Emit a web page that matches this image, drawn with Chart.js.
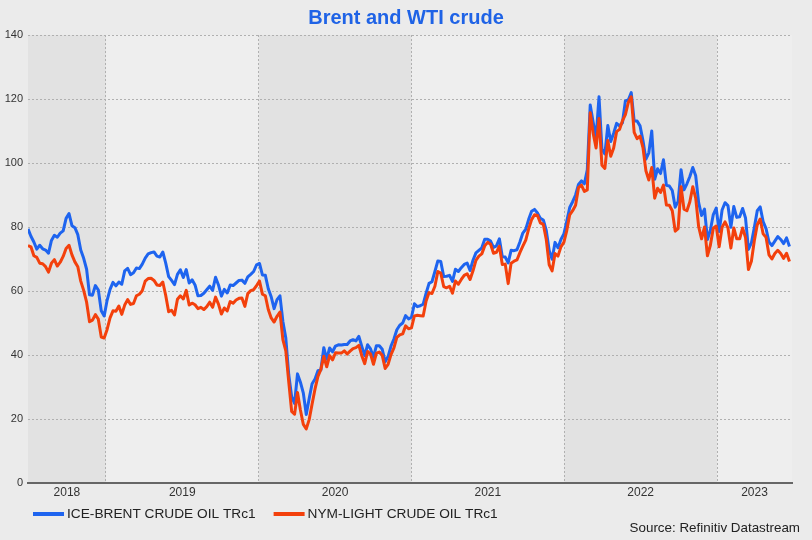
<!DOCTYPE html>
<html>
<head>
<meta charset="utf-8">
<title>Brent and WTI crude</title>
<script src="https://cdn.jsdelivr.net/npm/chart.js@4.4.1/dist/chart.umd.min.js"></script>
<style>
  html, body { margin: 0; padding: 0; background: #ebebeb; }
  #wrap { width: 812px; height: 540px; }
</style>
</head>
<body>
<div id="wrap"><canvas id="crudeChart" width="812" height="540"></canvas></div>
<script>
// === DATA: weekly (Friday) closes, USD/bbl ===
const firstWeek = '2018-06-29';
const axisStart = '2018-06-29';
const axisEnd = '2023-06-29';
const yearLabels = ['2018', '2019', '2020', '2021', '2022', '2023'];
const shadedYears = [2018, 2020, 2022];
const yTicks = [0, 20, 40, 60, 80, 100, 120, 140];
const titleText = 'Brent and WTI crude';
const sourceText = 'Source: Refinitiv Datastream';

const brent2018 = [79.4, 77.1, 75.3, 73.1, 74.3, 73.2, 72.8, 71.8, 75.8, 77.4, 76.8, 78.1, 78.8, 82.7,
  84.2, 80.4, 79.8, 77.6, 72.8, 70.2, 66.8, 58.8, 58.7, 61.7, 60.3, 53.8, 52.2];
const brent2019 = [57.1, 60.5, 62.7, 61.6, 62.8, 62.1, 66.3, 67.1, 65.1, 65.7, 67.2, 67.0, 68.4, 70.3,
  71.6, 72.0, 72.2, 70.9, 70.6, 72.2, 68.7, 64.5, 63.3, 62.0, 65.2, 66.6, 64.2, 66.7, 62.5, 63.5, 61.9,
  58.5, 58.6, 59.3, 60.4, 61.5, 60.2, 64.3, 61.9, 58.4, 60.5, 59.4, 61.9, 61.7, 62.5, 63.3, 63.4, 62.4,
  64.4, 65.2, 66.1, 68.2];
const brent2020 = [68.6, 65.0, 64.9, 60.7, 58.2, 54.5, 57.3, 58.5, 50.5, 45.3, 33.9, 27.0, 24.9, 34.1,
  31.5, 28.1, 21.4, 26.4, 31.0, 32.5, 35.1, 35.3, 42.3, 38.7, 42.2, 41.0, 42.8, 43.2, 43.1, 43.3, 43.3,
  44.4, 44.8, 44.4, 45.8, 42.7, 39.8, 43.2, 41.9, 39.3, 42.9, 42.9, 41.8, 37.9, 39.5, 42.8, 45.0, 47.9,
  49.3, 50.0, 52.3, 51.3];
const brent2021 = [51.8, 56.0, 55.1, 55.4, 55.9, 59.3, 62.4, 62.9, 66.1, 69.4, 69.2, 64.5, 64.6, 64.9,
  63.0, 66.8, 66.1, 67.3, 68.3, 68.7, 66.4, 69.6, 71.9, 72.7, 73.5, 76.2, 76.2, 75.6, 73.6, 74.1, 76.3,
  70.7, 70.6, 68.8, 72.7, 72.6, 72.9, 75.3, 78.1, 79.3, 82.4, 84.9, 85.5, 84.4, 82.7, 82.2, 78.9, 72.7,
  69.9, 75.2, 73.5, 76.1, 77.8];
const brent2022 = [81.8, 86.1, 87.9, 90.0, 93.3, 94.4, 93.5, 97.9, 118.1, 112.7, 107.9, 120.7, 104.4,
  102.8, 111.7, 106.7, 109.3, 112.4, 111.6, 112.6, 119.4, 119.7, 122.0, 113.1, 113.1, 111.6, 107.0,
  101.2, 103.2, 110.0, 94.9, 98.2, 96.7, 101.0, 93.0, 92.8, 91.4, 86.2, 88.0, 97.9, 91.6, 93.5, 95.8,
  98.6, 96.0, 87.6, 83.6, 85.6, 76.1, 79.0, 83.9, 85.9];
const brent2023 = [78.6, 85.3, 87.6, 86.7, 79.9, 86.4, 83.0, 83.2, 85.8, 82.8, 73.0, 75.0, 79.8, 85.1,
  86.3, 81.7, 79.5, 75.3, 74.2, 75.6, 77.0, 76.1, 74.8, 76.6, 73.9];

const wti2018 = [74.2, 73.8, 71.0, 70.5, 68.7, 68.5, 67.6, 65.9, 68.7, 69.8, 67.8, 69.0, 70.8, 73.3,
  74.3, 71.3, 69.1, 67.6, 63.1, 60.2, 56.5, 50.4, 50.9, 52.6, 51.2, 45.6, 45.3];
const wti2019 = [48.0, 51.6, 53.8, 53.7, 55.3, 52.7, 55.6, 57.3, 55.8, 56.1, 58.5, 59.0, 60.1, 63.1,
  63.9, 64.0, 63.3, 61.9, 61.7, 62.8, 58.6, 53.5, 54.0, 52.5, 57.4, 58.5, 57.5, 60.2, 55.6, 56.2, 55.7,
  54.5, 54.9, 54.2, 55.1, 56.5, 54.9, 58.1, 55.9, 52.8, 54.7, 53.8, 56.7, 56.2, 57.2, 57.7, 57.8, 55.2,
  59.2, 60.1, 60.4, 61.7];
const wti2020 = [63.1, 59.0, 58.5, 54.2, 51.6, 50.3, 52.1, 53.4, 44.8, 41.3, 31.7, 22.4, 21.5, 28.3,
  22.8, 18.3, 16.9, 19.8, 24.7, 29.4, 33.3, 35.5, 39.6, 36.3, 39.8, 38.5, 40.7, 40.6, 40.6, 41.3, 40.3,
  41.2, 42.0, 42.3, 43.0, 39.8, 37.3, 41.1, 40.3, 37.1, 40.6, 40.9, 39.9, 35.8, 37.1, 40.1, 42.2, 45.5,
  46.3, 46.6, 49.1, 48.2];
const wti2021 = [48.5, 52.2, 52.4, 52.3, 52.2, 56.9, 59.5, 59.2, 61.5, 66.1, 65.6, 61.4, 61.0, 61.5,
  59.3, 63.1, 62.1, 63.6, 64.9, 65.4, 63.6, 66.3, 69.6, 70.9, 71.6, 74.1, 75.2, 74.6, 71.8, 72.1, 74.0,
  68.3, 68.4, 62.3, 68.7, 69.3, 69.7, 72.0, 74.0, 75.9, 79.4, 82.3, 83.8, 83.6, 81.3, 80.8, 76.1, 68.2,
  66.3, 71.7, 70.9, 73.8, 75.2];
const wti2022 = [78.9, 83.8, 85.1, 86.8, 92.3, 93.1, 91.1, 91.6, 115.7, 109.3, 104.7, 113.9, 99.3,
  98.3, 107.0, 102.1, 104.7, 109.8, 110.5, 113.2, 115.1, 118.9, 120.7, 109.6, 107.6, 108.4, 104.8,
  97.6, 94.7, 98.6, 89.0, 92.1, 90.8, 93.1, 86.9, 86.8, 85.1, 78.7, 79.5, 92.6, 85.6, 85.1, 87.9, 92.6,
  89.0, 80.1, 76.3, 80.0, 71.0, 74.3, 79.6, 80.3];
const wti2023 = [73.8, 79.9, 81.6, 79.7, 73.4, 79.7, 76.3, 76.3, 79.7, 76.7, 66.7, 69.3, 75.7, 80.7,
  82.5, 77.9, 76.8, 71.3, 70.0, 71.7, 72.7, 71.7, 70.2, 71.8, 69.2];

const brent = [].concat(brent2018, brent2019, brent2020, brent2021, brent2022, brent2023);
const wti = [].concat(wti2018, wti2019, wti2020, wti2021, wti2022, wti2023);

// === HELPERS ===
const DAY = 86400000;
function toYear(ms) {
  const y = new Date(ms).getUTCFullYear();
  const a = Date.UTC(y, 0, 1), b = Date.UTC(y + 1, 0, 1);
  return y + (ms - a) / (b - a);
}
const startMs = Date.parse(firstWeek + 'T00:00:00Z');
const weeks = brent.map((_, i) => toYear(startMs + i * 7 * DAY));
const xMin = toYear(Date.parse(axisStart + 'T00:00:00Z'));
const xMax = toYear(Date.parse(axisEnd + 'T00:00:00Z'));

const asPoints = arr => arr.map((v, i) => ({ x: weeks[i], y: v }));

// === COLOURS / FONTS ===
const fontFamily = '"Liberation Sans", Arial, sans-serif';
const pageColor = '#ebebeb';
const plotColor = '#eeeeee';
const bandColor = '#e2e2e2';
const gridColor = '#b0b0b0';
const blue = '#1e64ef';
const red = '#f3400c';

// === PLUGINS ===
// shaded year bands behind grid and lines
const yearBands = {
  id: 'yearBands',
  beforeDraw(chart) {
    const { ctx, chartArea: a, scales: { x } } = chart;
    ctx.save();
    ctx.fillStyle = pageColor;
    ctx.fillRect(0, 0, chart.width, chart.height);
    ctx.fillStyle = plotColor;
    ctx.fillRect(a.left, a.top, a.right - a.left, a.bottom - a.top);
    ctx.fillStyle = bandColor;
    shadedYears.forEach(yr => {
      const x0 = x.getPixelForValue(Math.max(yr, x.min));
      const x1 = x.getPixelForValue(Math.min(yr + 1, x.max));
      ctx.fillRect(x0, a.top, x1 - x0, a.bottom - a.top);
    });
    ctx.restore();
  }
};

// title on top, legend row + source line under the axis
const frameText = {
  id: 'frameText',
  afterDraw(chart) {
    const ctx = chart.ctx;
    ctx.save();
    ctx.textBaseline = 'middle';

    ctx.font = 'bold 20px ' + fontFamily;
    ctx.fillStyle = '#1f63e6';
    ctx.textAlign = 'center';
    ctx.fillText(titleText, chart.width / 2, 18);

    ctx.font = '13.7px ' + fontFamily;
    ctx.textAlign = 'left';
    let cx = 33;
    const ly = 514;
    chart.data.datasets.forEach(ds => {
      ctx.strokeStyle = ds.borderColor;
      ctx.lineWidth = 4;
      ctx.beginPath();
      ctx.moveTo(cx, ly);
      ctx.lineTo(cx + 31, ly);
      ctx.stroke();
      ctx.fillStyle = '#222';
      ctx.fillText(ds.label, cx + 34, ly);
      cx += 34 + ctx.measureText(ds.label).width + 18;
    });

    ctx.font = '13.4px ' + fontFamily;
    ctx.textAlign = 'right';
    ctx.fillText(sourceText, 800, 528);
    ctx.restore();
  }
};

// === CHART ===
Chart.defaults.font.family = fontFamily;
Chart.defaults.color = '#333';

new Chart(document.getElementById('crudeChart'), {
  type: 'line',
  data: {
    datasets: [
      {
        label: 'ICE-BRENT CRUDE OIL TRc1',
        data: asPoints(brent),
        borderColor: blue,
        backgroundColor: blue,
        borderWidth: 3,
        pointRadius: 0,
        borderJoinStyle: 'round',
        order: 2
      },
      {
        label: 'NYM-LIGHT CRUDE OIL TRc1',
        data: asPoints(wti),
        borderColor: red,
        backgroundColor: red,
        borderWidth: 3,
        pointRadius: 0,
        borderJoinStyle: 'round',
        order: 1
      }
    ]
  },
  options: {
    responsive: false,
    animation: false,
    layout: { padding: { left: 0, right: 20, top: 35, bottom: 38.6 } },
    plugins: {
      title: { display: false },
      legend: { display: false },
      tooltip: { enabled: false }
    },
    scales: {
      x: {
        type: 'linear',
        min: xMin,
        max: xMax,
        afterBuildTicks: s => { s.ticks = [2019, 2020, 2021, 2022, 2023].map(v => ({ value: v })); },
        ticks: { display: false },
        grid: { color: gridColor, lineWidth: 1, drawTicks: false },
        border: { display: true, color: '#666', width: 2, dash: [2, 2] }
      },
      xLabels: {
        type: 'linear',
        position: 'bottom',
        axis: 'x',
        weight: 1,
        min: xMin,
        max: xMax,
        afterBuildTicks: s => {
          s.ticks = yearLabels.map(l => {
            const y = Number(l);
            const lo = Math.max(y, xMin), hi = Math.min(y + 1, xMax);
            return { value: (lo + hi) / 2 };
          });
        },
        ticks: {
          padding: 2,
          maxRotation: 0,
          autoSkip: false,
          font: { size: 12 },
          color: '#333',
          callback: (v, i) => yearLabels[i]
        },
        grid: { display: false, drawTicks: false },
        border: { display: false }
      },
      y: {
        min: 0,
        max: 140,
        afterBuildTicks: s => { s.ticks = yTicks.map(v => ({ value: v })); },
        afterFit: s => { s.width = 28; },
        ticks: { padding: 5, font: { size: 11 }, color: '#333' },
        grid: { color: gridColor, lineWidth: 1, drawTicks: false },
        border: { display: false, dash: [2, 2] }
      }
    }
  },
  plugins: [yearBands, frameText]
});
</script>
</body>
</html>
